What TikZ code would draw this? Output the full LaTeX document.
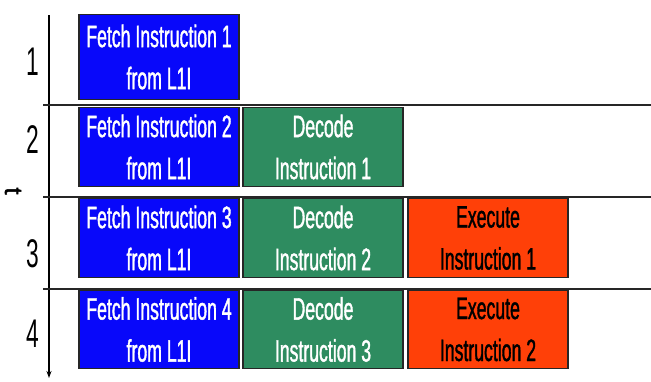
\documentclass[tikz,border=0pt]{standalone}
\usepackage{fontspec}
\setmainfont{Liberation Sans}
\newfontfamily\narrowfont[FakeStretch=0.57]{Liberation Sans}
\newfontfamily\narrowheavy[FakeStretch=0.57,FakeBold=1.2]{Liberation Sans}
\newfontfamily\tfont[FakeBold=2]{Liberation Sans}
\usetikzlibrary{arrows.meta}
\definecolor{fetchblue}{RGB}{8,8,250}
\definecolor{decgreen}{RGB}{46,140,96}
\definecolor{exred}{RGB}{255,64,8}
\tikzset{
  stagebox/.style={draw=black!85, line width=1.2pt, minimum width=160pt, inner sep=0pt, align=center,
    font=\narrowheavy\fontsize{31}{42}\selectfont},
  fetchbox/.style={stagebox, fill=fetchblue, text=white},
  decbox/.style={stagebox, fill=decgreen, text=white},
  exbox/.style={stagebox, fill=exred, text=black},
  rowline/.style={line width=1.6pt, black!85},
  cyclenum/.style={font=\narrowfont\fontsize{40}{40}\selectfont, inner sep=0pt},
}
\begin{document}
\begin{tikzpicture}[x=1pt,y=-1pt]
\useasboundingbox (0,0) rectangle (651,381);
% axis
\coordinate (axtop) at (49,15);
\coordinate (axbot) at (49,378);
\draw[line width=1.2pt, -{Stealth[length=7pt,width=5pt]}] (axtop) -- (axbot);
% row lines
\foreach \y/\n in {105/a,197/b,289/c}{
  \coordinate (l\n) at (43,\y);
  \coordinate (r\n) at (651,\y);
  \draw[rowline] (l\n) -- (r\n);
}
% numbers
\node[cyclenum] (n1) at (33,62) {1};
\node[cyclenum] (n2) at (33,140) {2};
\node[cyclenum] (n3) at (33,254) {3};
\node[cyclenum] (n4) at (33,334) {4};
\node[font=\tfont\fontsize{25}{25}\selectfont, rotate=-90, inner sep=0pt] (t) at (13,191) {t};
% row 1
\node[fetchbox, minimum height=85pt] (f1) at (159,57) {Fetch Instruction 1\\from L1I};
% row 2
\node[fetchbox, minimum height=79pt] (f2) at (159,147) {Fetch Instruction 2\\from L1I};
\node[decbox, minimum height=79pt] (d1) at (323,147) {Decode\\Instruction 1};
% row 3
\node[fetchbox, minimum height=79pt] (f3) at (159,238) {Fetch Instruction 3\\from L1I};
\node[decbox, minimum height=79pt] (d2) at (323,238) {Decode\\Instruction 2};
\node[exbox, minimum height=79pt] (e1) at (488,238) {Execute\\Instruction 1};
% row 4
\node[fetchbox, minimum height=78pt] (f4) at (159,329.5) {Fetch Instruction 4\\from L1I};
\node[decbox, minimum height=78pt] (d3) at (323,329.5) {Decode\\Instruction 3};
\node[exbox, minimum height=78pt] (e2) at (488,329.5) {Execute\\Instruction 2};
\end{tikzpicture}
\end{document}
